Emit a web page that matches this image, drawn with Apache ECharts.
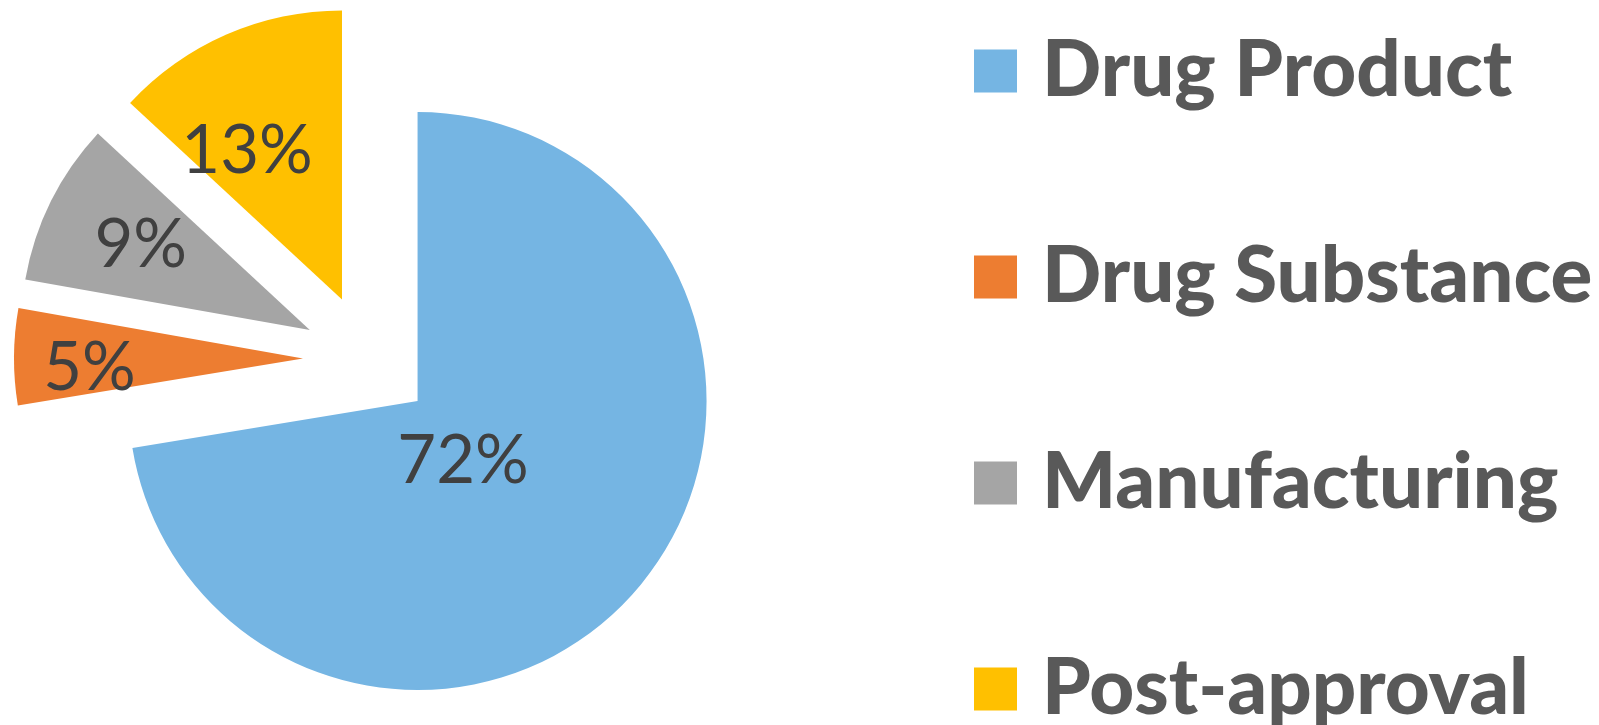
<!DOCTYPE html>
<html>
<head>
<meta charset="utf-8">
<script src="https://cdn.jsdelivr.net/npm/echarts@6/dist/echarts.min.js"></script>
<style>
html,body{margin:0;padding:0;background:#fff;}
#chart{width:1599px;height:725px;}
</style>
</head>
<body>
<div id="chart"></div>
<script>
const categories = ['Drug Product', 'Drug Substance', 'Manufacturing', 'Post-approval'];
const values = [72.4, 5.4, 9.1, 13.1];
const colors = ['#75B5E3', '#ED7D31', '#A5A5A5', '#FFC000'];
// label nudges (style only)
const labelDx = [-67, -66, -37, -36];
const labelDy = [-35, 11, -19, -13];

const chart = echarts.init(document.getElementById('chart'), null, {renderer: 'canvas'});
const option = {
  animation: false,
  color: colors,
  legend: {
    orient: 'vertical',
    left: 974,
    top: 32,
    height: 710,
    padding: 0,
    icon: 'rect',
    itemWidth: 43,
    itemHeight: 43,
    itemGap: 128,
    selectedMode: false,
    data: categories,
    textStyle: {
      fontFamily: 'Lato',
      fontWeight: 900,
      fontSize: 78,
      color: '#595959',
      padding: [0, 0, 0, 20]
    }
  },
  series: [{
    type: 'pie',
    center: [368, 359],
    radius: 289,
    startAngle: 90,
    clockwise: true,
    selectedMode: 'multiple',
    selectedOffset: 65,
    avoidLabelOverlap: false,
    label: {
      show: true,
      position: 'inside',
      formatter: p => Math.round(p.percent) + '%',
      fontFamily: 'Lato',
      fontSize: 67,
      color: '#404040'
    },
    labelLine: {show: false},
    emphasis: {disabled: true},
    labelLayout: function (params) {
      return {dx: labelDx[params.dataIndex], dy: labelDy[params.dataIndex]};
    },
    data: categories.map((c, i) => ({name: c, value: values[i], selected: true}))
  }]
};
chart.setOption(option);
</script>
</body>
</html>
